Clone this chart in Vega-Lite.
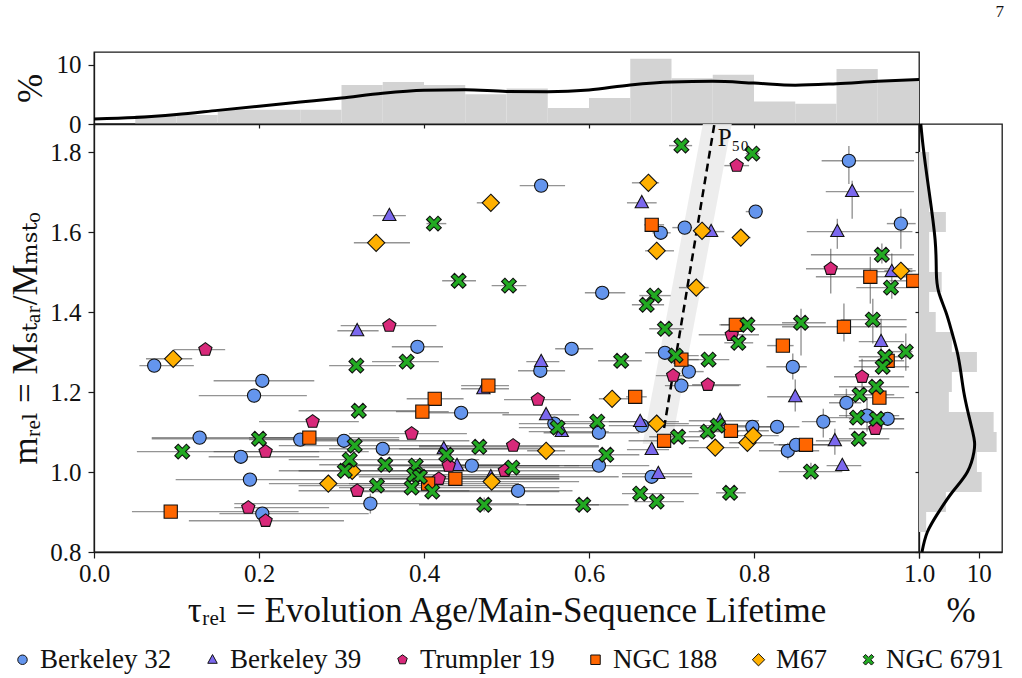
{
"$schema": "https://vega.github.io/schema/vega-lite/v6.json",
"padding": {"left": 8, "top": 3, "right": 5, "bottom": 5},
"title": {"text": "7", "anchor": "end", "offset": 30, "fontSize": 17, "fontWeight": "normal", "font": "'Liberation Serif', 'DejaVu Serif', serif", "color": "#111"},
"config": {
  "font": "'Liberation Serif', 'DejaVu Serif', serif",
  "view": {"stroke": "#1a1a1a", "strokeWidth": 1.3},
  "axis": {"grid": false, "domainColor": "#1a1a1a", "tickColor": "#1a1a1a", "labelColor": "#111", "titleColor": "#111", "labelFont": "'Liberation Serif', 'DejaVu Serif', serif", "titleFont": "'Liberation Serif', 'DejaVu Serif', serif", "labelFontSize": 25, "titleFontSize": 35, "titleFontWeight": "normal", "labelFlush": false, "labelOverlap": false, "tickSize": 6, "domainWidth": 1.3, "tickWidth": 1.2},
  "legend": {"labelFont": "'Liberation Serif', 'DejaVu Serif', serif", "labelFontSize": 27, "labelColor": "#111"},
  "text": {"font": "'Liberation Serif', 'DejaVu Serif', serif"}
},
"datasets": {
  "th": [
    {"b0":0.05,"b1":0.10,"v":1.5},{"b0":0.10,"b1":0.15,"v":1.5},{"b0":0.15,"b1":0.20,"v":2.4},{"b0":0.20,"b1":0.25,"v":2.4},{"b0":0.25,"b1":0.30,"v":2.4},
    {"b0":0.30,"b1":0.35,"v":6.6},{"b0":0.35,"b1":0.40,"v":7.1},{"b0":0.40,"b1":0.45,"v":6.6},{"b0":0.45,"b1":0.50,"v":5.0},{"b0":0.50,"b1":0.55,"v":6.0},
    {"b0":0.55,"b1":0.60,"v":2.7},{"b0":0.60,"b1":0.65,"v":4.4},{"b0":0.65,"b1":0.70,"v":11.0},{"b0":0.70,"b1":0.75,"v":7.7},{"b0":0.75,"b1":0.80,"v":8.3},
    {"b0":0.80,"b1":0.85,"v":3.8},{"b0":0.85,"b1":0.90,"v":3.4},{"b0":0.90,"b1":0.95,"v":9.3},{"b0":0.95,"b1":1.00,"v":7.3}
  ],
  "tk": [
    {"x":0.0,"v":0.85},{"x":0.05,"v":1.1},{"x":0.1,"v":1.6},{"x":0.15,"v":2.3},{"x":0.2,"v":3.0},{"x":0.25,"v":3.7},{"x":0.3,"v":4.4},
    {"x":0.35,"v":5.2},{"x":0.4,"v":5.7},{"x":0.45,"v":5.8},{"x":0.5,"v":5.5},{"x":0.55,"v":5.45},{"x":0.6,"v":5.75},{"x":0.65,"v":6.6},
    {"x":0.7,"v":7.1},{"x":0.75,"v":7.2},{"x":0.8,"v":6.9},{"x":0.85,"v":6.55},{"x":0.9,"v":6.8},{"x":0.95,"v":7.2},{"x":1.0,"v":7.5}
  ],
  "rh": [
    {"b0":0.85,"b1":0.90,"v":1.2},{"b0":0.90,"b1":0.95,"v":4.5},{"b0":0.95,"b1":1.00,"v":10.5},{"b0":1.00,"b1":1.05,"v":9.7},{"b0":1.05,"b1":1.10,"v":13.0},
    {"b0":1.10,"b1":1.15,"v":12.5},{"b0":1.15,"b1":1.20,"v":5.0},{"b0":1.20,"b1":1.25,"v":5.5},{"b0":1.25,"b1":1.30,"v":9.7},{"b0":1.30,"b1":1.35,"v":5.5},
    {"b0":1.35,"b1":1.40,"v":2.8},{"b0":1.40,"b1":1.45,"v":1.7},{"b0":1.45,"b1":1.50,"v":3.8},{"b0":1.50,"b1":1.55,"v":1.7},{"b0":1.55,"b1":1.60,"v":1.7},
    {"b0":1.60,"b1":1.65,"v":4.5},{"b0":1.65,"b1":1.70,"v":1.7},{"b0":1.70,"b1":1.75,"v":1.7},{"b0":1.75,"b1":1.80,"v":1.7}
  ],
  "rk": [
    {"y":0.8,"v":0.5},{"y":0.85,"v":1.4},{"y":0.9,"v":3.3},{"y":0.95,"v":5.6},{"y":1.0,"v":8.1},{"y":1.05,"v":9.2},{"y":1.075,"v":9.3},{"y":1.1,"v":9.0},
    {"y":1.15,"v":8.2},{"y":1.2,"v":7.5},{"y":1.25,"v":7.0},{"y":1.3,"v":6.4},{"y":1.35,"v":5.5},{"y":1.4,"v":4.5},{"y":1.45,"v":3.3},{"y":1.5,"v":2.9},
    {"y":1.58,"v":2.7},{"y":1.7,"v":1.7},{"y":1.8,"v":0.8},{"y":1.87,"v":0.3}
  ],
  "band": [{"by":1.07,"bx0":0.665,"bx1":0.700},{"by":1.87,"bx0":0.738,"bx1":0.773}],
  "p50": [{"lx":0.691,"ly":1.11},{"lx":0.752,"ly":1.87}],
  "p50t": [{"tx":0.756,"ty":1.816,"t":"P₅₀"}],
  "s": [
{"c":"Berkeley 32","x":0.073,"y":1.266,"x0":0.055,"x1":0.121},
{"c":"Berkeley 32","x":0.204,"y":1.228,"x0":0.145,"x1":0.267},
{"c":"Berkeley 32","x":0.194,"y":1.191,"x0":0.127,"x1":0.258},
{"c":"Berkeley 32","x":0.128,"y":1.086,"x0":0.070,"x1":0.248},
{"c":"Berkeley 32","x":0.178,"y":1.038,"x0":0.139,"x1":0.273},
{"c":"Berkeley 32","x":0.189,"y":0.981,"x0":0.099,"x1":0.285},
{"c":"Berkeley 32","x":0.204,"y":0.896,"x0":0.152,"x1":0.333},
{"c":"Berkeley 32","x":0.250,"y":1.081,"x0":0.188,"x1":0.370},
{"c":"Berkeley 32","x":0.303,"y":1.078,"x0":0.248,"x1":0.455},
{"c":"Berkeley 32","x":0.350,"y":1.058,"x0":0.285,"x1":0.515},
{"c":"Berkeley 32","x":0.335,"y":0.921,"x0":0.170,"x1":0.515,"y0":0.896,"y1":0.946},
{"c":"Berkeley 32","x":0.458,"y":1.016,"x0":0.394,"x1":0.612},
{"c":"Berkeley 32","x":0.445,"y":1.148,"x0":0.406,"x1":0.503},
{"c":"Berkeley 32","x":0.392,"y":1.313,"x0":0.361,"x1":0.423},
{"c":"Berkeley 32","x":0.579,"y":1.308,"x0":0.559,"x1":0.605},
{"c":"Berkeley 32","x":0.541,"y":1.253,"x0":0.514,"x1":0.571},
{"c":"Berkeley 32","x":0.542,"y":1.716,"x0":0.516,"x1":0.571},
{"c":"Berkeley 32","x":0.692,"y":1.298,"x0":0.668,"x1":0.715},
{"c":"Berkeley 32","x":0.616,"y":1.448,"x0":0.595,"x1":0.644},
{"c":"Berkeley 32","x":0.915,"y":1.778,"x0":0.882,"x1":0.994,"y0":1.72,"y1":1.815},
{"c":"Berkeley 32","x":0.978,"y":1.621,"x0":0.961,"x1":0.996,"y0":1.558,"y1":1.658},
{"c":"Berkeley 32","x":0.802,"y":1.651,"x0":0.790,"x1":0.810},
{"c":"Berkeley 32","x":0.716,"y":1.611,"x0":0.701,"x1":0.725},
{"c":"Berkeley 32","x":0.687,"y":1.598,"x0":0.677,"x1":0.699},
{"c":"Berkeley 32","x":0.721,"y":1.251,"x0":0.715,"x1":0.739},
{"c":"Berkeley 32","x":0.712,"y":1.216,"x0":0.692,"x1":0.782},
{"c":"Berkeley 32","x":0.612,"y":1.098,"x0":0.545,"x1":0.661},
{"c":"Berkeley 32","x":0.612,"y":1.016,"x0":0.570,"x1":0.673},
{"c":"Berkeley 32","x":0.558,"y":1.121,"x0":0.515,"x1":0.612},
{"c":"Berkeley 32","x":0.514,"y":0.953,"x0":0.418,"x1":0.580},
{"c":"Berkeley 32","x":0.664,"y":1.116,"x0":0.624,"x1":0.721},
{"c":"Berkeley 32","x":0.676,"y":0.988,"x0":0.640,"x1":0.725},
{"c":"Berkeley 32","x":0.798,"y":1.113,"x0":0.776,"x1":0.824},
{"c":"Berkeley 32","x":0.828,"y":1.113,"x0":0.796,"x1":0.855},
{"c":"Berkeley 32","x":0.847,"y":1.263,"x0":0.815,"x1":0.864,"y0":1.231,"y1":1.296},
{"c":"Berkeley 32","x":0.884,"y":1.126,"x0":0.858,"x1":0.899,"y0":1.086,"y1":1.158},
{"c":"Berkeley 32","x":0.841,"y":1.053,"x0":0.806,"x1":0.879,"y0":1.031,"y1":1.073},
{"c":"Berkeley 32","x":0.851,"y":1.068,"x0":0.824,"x1":0.891},
{"c":"Berkeley 32","x":0.912,"y":1.173,"x0":0.891,"x1":0.930,"y0":1.136,"y1":1.208},
{"c":"Berkeley 32","x":0.937,"y":1.141,"x0":0.903,"x1":0.976,"y0":1.101,"y1":1.183},
{"c":"Berkeley 32","x":0.962,"y":1.133,"x0":0.939,"x1":0.982},
{"c":"Berkeley 39","x":0.358,"y":1.641,"x0":0.338,"x1":0.378},
{"c":"Berkeley 39","x":0.664,"y":1.673,"x0":0.646,"x1":0.682},
{"c":"Berkeley 39","x":0.919,"y":1.701,"x0":0.887,"x1":0.994,"y0":1.633,"y1":1.728},
{"c":"Berkeley 39","x":0.901,"y":1.601,"x0":0.864,"x1":0.992,"y0":1.558,"y1":1.633},
{"c":"Berkeley 39","x":0.748,"y":1.601,"x0":0.733,"x1":0.764},
{"c":"Berkeley 39","x":0.319,"y":1.353,"x0":0.295,"x1":0.345},
{"c":"Berkeley 39","x":0.542,"y":1.276,"x0":0.524,"x1":0.564},
{"c":"Berkeley 39","x":0.472,"y":1.208,"x0":0.445,"x1":0.503},
{"c":"Berkeley 39","x":0.548,"y":1.143,"x0":0.495,"x1":0.588},
{"c":"Berkeley 39","x":0.662,"y":1.126,"x0":0.624,"x1":0.709},
{"c":"Berkeley 39","x":0.567,"y":1.101,"x0":0.527,"x1":0.624},
{"c":"Berkeley 39","x":0.967,"y":1.501,"x0":0.943,"x1":0.992,"y0":1.433,"y1":1.546},
{"c":"Berkeley 39","x":0.954,"y":1.326,"x0":0.927,"x1":0.982,"y0":1.278,"y1":1.383},
{"c":"Berkeley 39","x":0.850,"y":1.188,"x0":0.816,"x1":0.912,"y0":1.151,"y1":1.231},
{"c":"Berkeley 39","x":0.759,"y":1.128,"x0":0.721,"x1":0.806},
{"c":"Berkeley 39","x":0.898,"y":1.078,"x0":0.875,"x1":0.918,"y0":1.043,"y1":1.108},
{"c":"Berkeley 39","x":0.907,"y":1.016,"x0":0.888,"x1":0.930},
{"c":"Berkeley 39","x":0.676,"y":1.056,"x0":0.646,"x1":0.697},
{"c":"Berkeley 39","x":0.684,"y":0.996,"x0":0.640,"x1":0.725},
{"c":"Berkeley 39","x":0.424,"y":1.058,"x0":0.370,"x1":0.539},
{"c":"Berkeley 39","x":0.440,"y":1.016,"x0":0.394,"x1":0.588},
{"c":"Berkeley 39","x":0.481,"y":0.988,"x0":0.430,"x1":0.636},
{"c":"Trumpler 19","x":0.135,"y":1.306,"x0":0.097,"x1":0.159},
{"c":"Trumpler 19","x":0.265,"y":1.126,"x0":0.200,"x1":0.321},
{"c":"Trumpler 19","x":0.208,"y":1.051,"x0":0.145,"x1":0.333},
{"c":"Trumpler 19","x":0.187,"y":0.911,"x0":0.170,"x1":0.285},
{"c":"Trumpler 19","x":0.208,"y":0.878,"x0":0.115,"x1":0.303},
{"c":"Trumpler 19","x":0.358,"y":1.366,"x0":0.299,"x1":0.415},
{"c":"Trumpler 19","x":0.538,"y":1.181,"x0":0.497,"x1":0.578},
{"c":"Trumpler 19","x":0.385,"y":1.096,"x0":0.309,"x1":0.452},
{"c":"Trumpler 19","x":0.779,"y":1.766,"x0":0.764,"x1":0.794},
{"c":"Trumpler 19","x":0.893,"y":1.508,"x0":0.863,"x1":0.992,"y0":1.446,"y1":1.558},
{"c":"Trumpler 19","x":0.773,"y":1.343,"x0":0.733,"x1":0.806},
{"c":"Trumpler 19","x":0.702,"y":1.241,"x0":0.681,"x1":0.727},
{"c":"Trumpler 19","x":0.744,"y":1.218,"x0":0.725,"x1":0.784},
{"c":"Trumpler 19","x":0.931,"y":1.238,"x0":0.897,"x1":0.982,"y0":1.196,"y1":1.283},
{"c":"Trumpler 19","x":0.947,"y":1.108,"x0":0.915,"x1":0.982},
{"c":"Trumpler 19","x":0.508,"y":1.066,"x0":0.394,"x1":0.612},
{"c":"Trumpler 19","x":0.498,"y":1.003,"x0":0.394,"x1":0.612},
{"c":"Trumpler 19","x":0.430,"y":1.016,"x0":0.345,"x1":0.564},
{"c":"Trumpler 19","x":0.418,"y":0.983,"x0":0.345,"x1":0.564},
{"c":"Trumpler 19","x":0.319,"y":0.953,"x0":0.248,"x1":0.455},
{"c":"NGC 188","x":0.093,"y":0.901,"x0":0.046,"x1":0.248},
{"c":"NGC 188","x":0.261,"y":1.086,"x0":0.188,"x1":0.370},
{"c":"NGC 188","x":0.478,"y":1.216,"x0":0.445,"x1":0.503},
{"c":"NGC 188","x":0.413,"y":1.183,"x0":0.379,"x1":0.448},
{"c":"NGC 188","x":0.398,"y":1.151,"x0":0.366,"x1":0.430},
{"c":"NGC 188","x":0.656,"y":1.188,"x0":0.645,"x1":0.670},
{"c":"NGC 188","x":0.405,"y":0.971,"x0":0.309,"x1":0.515},
{"c":"NGC 188","x":0.438,"y":0.983,"x0":0.345,"x1":0.564},
{"c":"NGC 188","x":0.691,"y":1.078,"x0":0.648,"x1":0.733},
{"c":"NGC 188","x":0.712,"y":1.281,"x0":0.697,"x1":0.733},
{"c":"NGC 188","x":0.778,"y":1.368,"x0":0.758,"x1":0.794},
{"c":"NGC 188","x":0.835,"y":1.316,"x0":0.816,"x1":0.848},
{"c":"NGC 188","x":0.909,"y":1.363,"x0":0.834,"x1":0.985,"y0":1.326,"y1":1.421},
{"c":"NGC 188","x":0.962,"y":1.278,"x0":0.927,"x1":0.982},
{"c":"NGC 188","x":0.952,"y":1.186,"x0":0.927,"x1":0.982},
{"c":"NGC 188","x":0.772,"y":1.103,"x0":0.733,"x1":0.818},
{"c":"NGC 188","x":0.863,"y":1.068,"x0":0.830,"x1":0.903},
{"c":"NGC 188","x":0.676,"y":1.618,"x0":0.667,"x1":0.691},
{"c":"NGC 188","x":0.941,"y":1.488,"x0":0.875,"x1":0.996,"y0":1.421,"y1":1.538},
{"c":"NGC 188","x":0.993,"y":1.478,"x0":0.964,"x1":1.0},
{"c":"M67","x":0.096,"y":1.283,"x0":0.063,"x1":0.119},
{"c":"M67","x":0.342,"y":1.573,"x0":0.315,"x1":0.383},
{"c":"M67","x":0.481,"y":1.673,"x0":0.464,"x1":0.491},
{"c":"M67","x":0.672,"y":1.723,"x0":0.652,"x1":0.685},
{"c":"M67","x":0.682,"y":1.553,"x0":0.668,"x1":0.703},
{"c":"M67","x":0.628,"y":1.183,"x0":0.612,"x1":0.651},
{"c":"M67","x":0.682,"y":1.121,"x0":0.661,"x1":0.721},
{"c":"M67","x":0.737,"y":1.603,"x0":0.727,"x1":0.752},
{"c":"M67","x":0.784,"y":1.586,"x0":0.776,"x1":0.796},
{"c":"M67","x":0.730,"y":1.461,"x0":0.709,"x1":0.745},
{"c":"M67","x":0.978,"y":1.503,"x0":0.958,"x1":0.996},
{"c":"M67","x":0.548,"y":1.053,"x0":0.525,"x1":0.571},
{"c":"M67","x":0.753,"y":1.061,"x0":0.721,"x1":0.782},
{"c":"M67","x":0.792,"y":1.073,"x0":0.770,"x1":0.824},
{"c":"M67","x":0.799,"y":1.091,"x0":0.776,"x1":0.830},
{"c":"M67","x":0.284,"y":0.971,"x0":0.212,"x1":0.394},
{"c":"M67","x":0.313,"y":1.003,"x0":0.248,"x1":0.430},
{"c":"M67","x":0.482,"y":0.976,"x0":0.394,"x1":0.588},
{"c":"NGC 6791","x":0.107,"y":1.051,"x0":0.052,"x1":0.273},
{"c":"NGC 6791","x":0.200,"y":1.083,"x0":0.070,"x1":0.309},
{"c":"NGC 6791","x":0.442,"y":1.478,"x0":0.422,"x1":0.463},
{"c":"NGC 6791","x":0.503,"y":1.466,"x0":0.482,"x1":0.524},
{"c":"NGC 6791","x":0.318,"y":1.266,"x0":0.285,"x1":0.366},
{"c":"NGC 6791","x":0.379,"y":1.276,"x0":0.337,"x1":0.418},
{"c":"NGC 6791","x":0.321,"y":1.153,"x0":0.248,"x1":0.406},
{"c":"NGC 6791","x":0.679,"y":1.441,"x0":0.661,"x1":0.699},
{"c":"NGC 6791","x":0.670,"y":1.418,"x0":0.652,"x1":0.691},
{"c":"NGC 6791","x":0.692,"y":1.358,"x0":0.673,"x1":0.715},
{"c":"NGC 6791","x":0.639,"y":1.278,"x0":0.611,"x1":0.664},
{"c":"NGC 6791","x":0.705,"y":1.291,"x0":0.685,"x1":0.733},
{"c":"NGC 6791","x":0.610,"y":1.126,"x0":0.564,"x1":0.661},
{"c":"NGC 6791","x":0.562,"y":1.111,"x0":0.515,"x1":0.612},
{"c":"NGC 6791","x":0.412,"y":1.621,"x0":0.403,"x1":0.427},
{"c":"NGC 6791","x":0.712,"y":1.816,"x0":0.697,"x1":0.725},
{"c":"NGC 6791","x":0.798,"y":1.796,"x0":0.790,"x1":0.806},
{"c":"NGC 6791","x":0.955,"y":1.543,"x0":0.869,"x1":0.994,"y0":1.521,"y1":1.571},
{"c":"NGC 6791","x":0.966,"y":1.461,"x0":0.924,"x1":0.996},
{"c":"NGC 6791","x":0.745,"y":1.281,"x0":0.721,"x1":0.770},
{"c":"NGC 6791","x":0.792,"y":1.368,"x0":0.760,"x1":0.855},
{"c":"NGC 6791","x":0.781,"y":1.323,"x0":0.764,"x1":0.799},
{"c":"NGC 6791","x":0.857,"y":1.373,"x0":0.834,"x1":0.887,"y0":1.291,"y1":1.408},
{"c":"NGC 6791","x":0.944,"y":1.381,"x0":0.905,"x1":0.985,"y0":1.321,"y1":1.433},
{"c":"NGC 6791","x":0.984,"y":1.301,"x0":0.961,"x1":0.992,"y0":1.253,"y1":1.346},
{"c":"NGC 6791","x":0.959,"y":1.288,"x0":0.927,"x1":0.988},
{"c":"NGC 6791","x":0.956,"y":1.263,"x0":0.921,"x1":0.988},
{"c":"NGC 6791","x":0.948,"y":1.213,"x0":0.903,"x1":0.988},
{"c":"NGC 6791","x":0.928,"y":1.193,"x0":0.897,"x1":0.970},
{"c":"NGC 6791","x":0.925,"y":1.136,"x0":0.879,"x1":0.964},
{"c":"NGC 6791","x":0.949,"y":1.133,"x0":0.915,"x1":0.982},
{"c":"NGC 6791","x":0.927,"y":1.083,"x0":0.891,"x1":0.964},
{"c":"NGC 6791","x":0.869,"y":1.001,"x0":0.830,"x1":0.907,"y0":0.981,"y1":1.023},
{"c":"NGC 6791","x":0.708,"y":1.088,"x0":0.673,"x1":0.745},
{"c":"NGC 6791","x":0.744,"y":1.101,"x0":0.721,"x1":0.782},
{"c":"NGC 6791","x":0.756,"y":1.116,"x0":0.721,"x1":0.806},
{"c":"NGC 6791","x":0.621,"y":1.043,"x0":0.564,"x1":0.661},
{"c":"NGC 6791","x":0.507,"y":1.011,"x0":0.394,"x1":0.612},
{"c":"NGC 6791","x":0.662,"y":0.946,"x0":0.640,"x1":0.733},
{"c":"NGC 6791","x":0.682,"y":0.926,"x0":0.655,"x1":0.715},
{"c":"NGC 6791","x":0.771,"y":0.948,"x0":0.754,"x1":0.790},
{"c":"NGC 6791","x":0.593,"y":0.918,"x0":0.524,"x1":0.648},
{"c":"NGC 6791","x":0.316,"y":1.066,"x0":0.224,"x1":0.430},
{"c":"NGC 6791","x":0.310,"y":1.031,"x0":0.236,"x1":0.467},
{"c":"NGC 6791","x":0.304,"y":1.003,"x0":0.224,"x1":0.455},
{"c":"NGC 6791","x":0.353,"y":1.018,"x0":0.273,"x1":0.515},
{"c":"NGC 6791","x":0.343,"y":0.966,"x0":0.248,"x1":0.515},
{"c":"NGC 6791","x":0.390,"y":1.016,"x0":0.309,"x1":0.564},
{"c":"NGC 6791","x":0.388,"y":0.993,"x0":0.309,"x1":0.564},
{"c":"NGC 6791","x":0.395,"y":0.988,"x0":0.321,"x1":0.564},
{"c":"NGC 6791","x":0.385,"y":0.961,"x0":0.297,"x1":0.564},
{"c":"NGC 6791","x":0.410,"y":0.951,"x0":0.321,"x1":0.564},
{"c":"NGC 6791","x":0.427,"y":1.043,"x0":0.345,"x1":0.564},
{"c":"NGC 6791","x":0.467,"y":1.063,"x0":0.394,"x1":0.612},
{"c":"NGC 6791","x":0.473,"y":0.918,"x0":0.394,"x1":0.612,"y0":0.901,"y1":0.936}
  ]
},
"columns": 2,
"spacing": 0,
"bounds": "flush",
"concat": [
  {
    "width": 825, "height": 72,
    "layer": [
      {"data": {"name": "th"}, "mark": {"type": "rect", "color": "#d3d3d3"},
       "encoding": {
         "x": {"field": "b0", "type": "quantitative", "scale": {"domain": [0, 1], "nice": false}, "axis": {"values": [0, 0.2, 0.4, 0.6, 0.8, 1], "labels": false, "title": null, "tickSize": 4}},
         "x2": {"field": "b1"},
         "y": {"field": "v", "type": "quantitative", "scale": {"domain": [0, 12.15], "nice": false}, "axis": {"values": [0, 10], "title": "%", "titlePadding": 8, "labelPadding": 7}},
         "y2": {"datum": 0}}},
      {"data": {"name": "tk"}, "mark": {"type": "line", "color": "#000", "strokeWidth": 3, "interpolate": "monotone"},
       "encoding": {"x": {"field": "x", "type": "quantitative"}, "y": {"field": "v", "type": "quantitative"}}}
    ]
  },
  {
    "width": 83, "height": 72, "view": {"stroke": null},
    "data": {"values": [{"a": 0}]},
    "mark": {"type": "point", "opacity": 0},
    "encoding": {}
  },
  {
    "width": 825, "height": 428,
    "layer": [
      {"data": {"name": "band"}, "mark": {"type": "area", "orient": "horizontal", "color": "#ebebeb", "opacity": 0.9},
       "encoding": {
         "y": {"field": "by", "type": "quantitative", "scale": {"domain": [0.8, 1.87], "nice": false, "zero": false},
               "axis": {"values": [0.8, 1.0, 1.2, 1.4, 1.6, 1.8], "format": ".1f", "labelPadding": 7, "title": "mᵣₑₗ = Mₛₜₐᵣ/Mₘₛₜₒ", "titlePadding": 6}},
         "x": {"field": "bx0", "type": "quantitative", "scale": {"domain": [0, 1], "nice": false},
               "axis": {"values": [0, 0.2, 0.4, 0.6, 0.8, 1.0], "format": ".1f", "labelPadding": 3, "title": "τᵣₑₗ = Evolution Age/Main-Sequence Lifetime", "titlePadding": 7}},
         "x2": {"field": "bx1"}}},
      {"data": {"name": "s"}, "mark": {"type": "rule", "color": "#4d4d4d", "opacity": 0.6, "strokeWidth": 1.4},
       "encoding": {"x": {"field": "x0", "type": "quantitative"}, "x2": {"field": "x1"}, "y": {"field": "y", "type": "quantitative"}}},
      {"data": {"name": "s"}, "transform": [{"filter": "isValid(datum.y0)"}], "mark": {"type": "rule", "color": "#4d4d4d", "opacity": 0.6, "strokeWidth": 1.4},
       "encoding": {"x": {"field": "x", "type": "quantitative"}, "y": {"field": "y0", "type": "quantitative"}, "y2": {"field": "y1"}}},
      {"data": {"name": "p50"}, "mark": {"type": "line", "color": "#000", "strokeWidth": 2.5, "strokeDash": [8, 5], "clip": true},
       "encoding": {"x": {"field": "lx", "type": "quantitative"}, "y": {"field": "ly", "type": "quantitative"}}},
      {"data": {"name": "s"}, "mark": {"type": "point", "filled": true, "opacity": 1, "size": 175, "stroke": "#111", "strokeWidth": 1.1},
       "encoding": {
         "x": {"field": "x", "type": "quantitative"},
         "y": {"field": "y", "type": "quantitative"},
         "color": {"field": "c", "type": "nominal",
                   "scale": {"domain": ["Berkeley 32", "Berkeley 39", "Trumpler 19", "NGC 188", "M67", "NGC 6791"],
                             "range": ["#6495ed", "#7b68ee", "#d8297a", "#ff6600", "#ffb000", "#22aa22"]},
                   "legend": {"title": null, "orient": "none", "legendX": -85, "legendY": 594, "direction": "horizontal", "columnPadding": 27, "symbolSize": 90, "symbolStrokeColor": "#111", "symbolStrokeWidth": 1, "labelFontSize": 27, "labelOffset": 4}},
         "shape": {"field": "c", "type": "nominal",
                   "scale": {"domain": ["Berkeley 32", "Berkeley 39", "Trumpler 19", "NGC 188", "M67", "NGC 6791"],
                             "range": ["circle", "M0,-1.1L1,0.75L-1,0.75Z", "M0,-1.05L1,-0.32L0.62,0.85L-0.62,0.85L-1,-0.32Z", "square", "M0,-1.3L1.3,0L0,1.3L-1.3,0Z", "M-0.62,-1.12L0,-0.5L0.62,-1.12L1.12,-0.62L0.5,0L1.12,0.62L0.62,1.12L0,0.5L-0.62,1.12L-1.12,0.62L-0.5,0L-1.12,-0.62Z"]},
                   "legend": {"title": null, "orient": "none", "legendX": -85, "legendY": 594, "direction": "horizontal", "columnPadding": 27, "symbolSize": 90, "symbolStrokeColor": "#111", "symbolStrokeWidth": 1, "labelFontSize": 27, "labelOffset": 4}}}},
      {"data": {"name": "p50t"}, "mark": {"type": "text", "align": "left", "baseline": "alphabetic", "fontSize": 25, "color": "#111"},
       "encoding": {"x": {"field": "tx", "type": "quantitative"}, "y": {"field": "ty", "type": "quantitative"}, "text": {"field": "t"}}}
    ]
  },
  {
    "width": 83, "height": 428,
    "layer": [
      {"data": {"name": "rh"}, "mark": {"type": "rect", "color": "#d3d3d3"},
       "encoding": {
         "y": {"field": "b0", "type": "quantitative", "scale": {"domain": [0.8, 1.87], "nice": false, "zero": false}, "axis": {"values": [0.8, 1.0, 1.2, 1.4, 1.6, 1.8], "labels": false, "title": null, "tickSize": 4}},
         "y2": {"field": "b1"},
         "x": {"field": "v", "type": "quantitative", "scale": {"domain": [0, 13.9], "nice": false}, "axis": {"values": [0, 10], "labelExpr": "datum.value == 0 ? '' : datum.label", "labelPadding": 3, "title": "%", "titlePadding": 7}},
         "x2": {"datum": 0}}},
      {"data": {"name": "rk"}, "mark": {"type": "line", "color": "#000", "strokeWidth": 3, "interpolate": "natural"},
       "encoding": {"x": {"field": "v", "type": "quantitative"}, "y": {"field": "y", "type": "quantitative"}, "order": {"field": "y", "type": "quantitative"}}}
    ]
  }
]
}
